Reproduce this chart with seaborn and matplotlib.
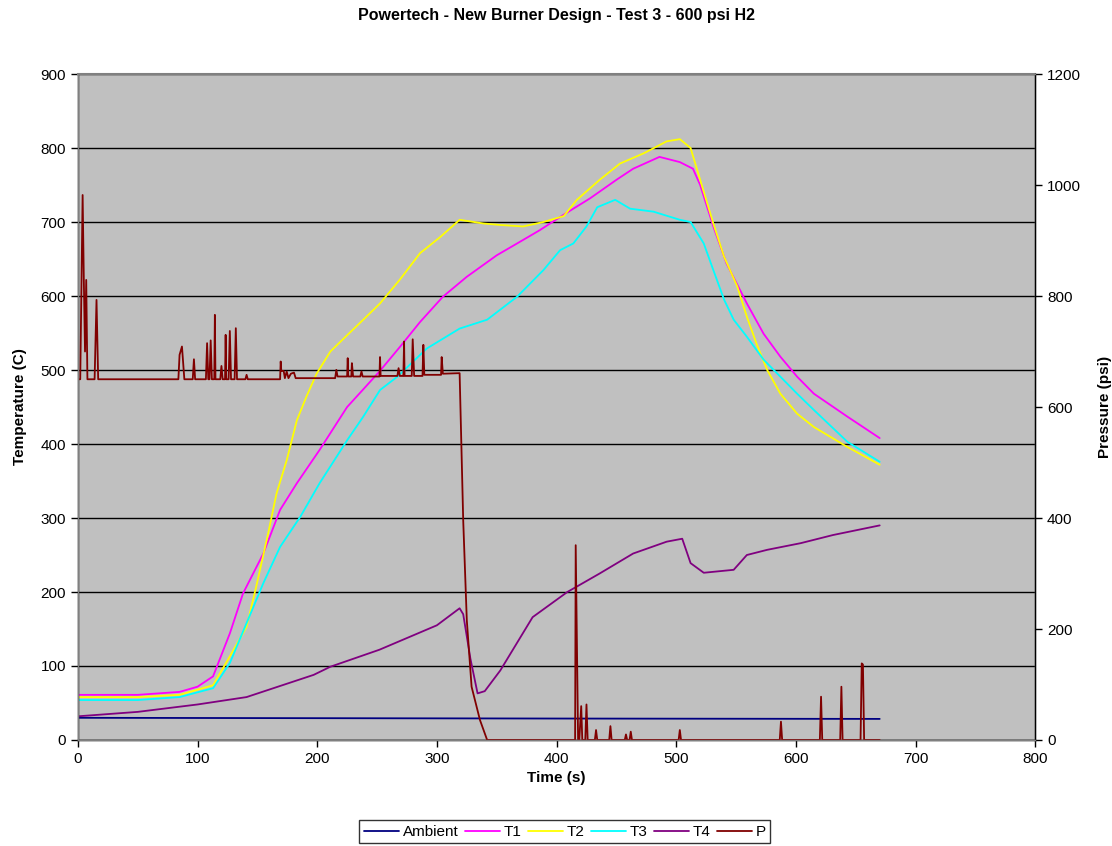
import pandas as pd
import matplotlib
matplotlib.use("Agg")
import matplotlib.pyplot as plt
import seaborn as sns

# ---- data ----
amb_time = [0, 200, 400, 670]
amb_temp = [30, 29.5, 29, 28.5]

t1_time = [0, 50, 85, 100, 113, 127, 138, 155, 169, 183, 202, 225, 238, 252, 269, 286, 305,
           325, 350, 367, 386, 408, 428, 450, 464, 486, 503, 514, 520, 531, 542, 559, 573,
           587, 601, 615, 643, 670]
t1_temp = [61, 61, 65, 72, 86, 144, 198, 252, 311, 347, 392, 450, 473, 498, 531, 565, 599,
           626, 655, 671, 689, 712, 732, 757, 772, 788, 781, 772, 750, 694, 644, 590, 549,
           518, 491, 468, 437, 408]

t2_time = [0, 50, 85, 113, 127, 141, 149, 159, 166, 174.5, 183, 191, 199.5, 211, 225, 238.5,
           252.5, 269, 286, 303, 319, 339, 353, 372, 389, 406, 417, 436, 453, 473, 492, 503,
           512, 520, 531, 540, 551, 559, 567, 576, 587, 601, 615, 643, 670]
t2_temp = [58, 58, 61, 74, 113, 153, 207, 279, 333, 378, 432, 464, 495, 525, 547, 568,
           590, 622, 658, 680, 703, 698, 696, 694, 700, 708, 730, 757, 779, 793, 809, 812,
           800, 757, 698, 653, 613, 572, 536, 500, 468, 441, 423, 396, 372]

t3_time = [0, 50, 85, 113, 127, 141, 155, 169, 186, 202, 225, 238.5, 252.5, 267, 291.5, 319,
           342, 367, 389, 403, 414, 425, 434, 449, 461.5, 481, 503, 512, 523, 531, 540, 548,
           559, 573, 587, 601, 615, 643, 670]
t3_temp = [54, 54, 58, 70, 104, 158, 212, 261, 302, 347, 405, 437, 473, 491, 529, 556,
           568, 599, 635, 662, 671, 694, 720, 730, 718, 714, 703, 700, 671, 635, 595, 568,
           545, 514, 491, 468, 446, 403, 376]

t4_time = [0, 50, 100, 141, 197, 211, 252, 300, 319, 322, 328, 334, 340, 353, 380, 409, 436,
           464, 492, 505, 512, 523, 548, 559, 576, 604, 631, 670]
t4_temp = [32, 38, 48, 58, 88, 99, 122, 155, 178, 170, 110, 63, 66, 94, 166, 200, 225,
           252, 268, 272, 239, 226, 230, 250, 257, 266, 277, 290]

p_time = [0, 2, 4, 5, 6, 7, 8, 14, 15.6, 17, 84, 85, 87, 89, 96, 97, 98, 107, 108, 109, 110, 111,
          112, 114, 114.5, 115, 119, 120, 121, 123, 123.5, 124, 126, 127, 128, 131, 132, 133, 140,
          141, 142, 169, 169.5, 170, 172, 173, 174.5, 176, 178, 180.6, 182, 215, 216, 217, 225,
          225.5, 226, 228.5, 229, 230, 236, 237, 238, 252, 252.5, 253, 267, 268, 269, 272, 272.6,
          273, 279, 279.8, 281, 288, 288.7, 289.5, 303.5, 304, 305, 319, 322, 325, 329, 336, 342,
          415.5, 416, 418, 419, 420.6, 421.5, 424, 425, 426, 432, 433, 434, 444, 445, 446, 457,
          458, 459, 461, 462, 463, 502, 503, 504, 586.5, 587.5, 588.5, 620, 621, 622, 637, 638,
          639, 654, 655, 656, 657, 670]
p_psi = [650, 650, 982, 829, 700, 829, 650, 650, 793, 650, 650, 694, 709, 650, 650, 686, 650, 650,
         715, 650, 650, 720, 650, 650, 766, 650, 650, 674, 650, 650, 730, 650, 650, 737, 650, 650,
         742, 650, 650, 658, 650, 650, 682, 665, 665, 652, 664, 652, 660, 662, 652, 652, 667, 655,
         655, 688, 655, 655, 679, 655, 655, 664, 655, 655, 690, 656, 656, 670, 656, 656, 718, 656,
         656, 722, 656, 656, 712, 658, 658, 690, 660, 661, 396, 216, 96, 36, 0,
         0, 351, 0, 0, 61, 0, 0, 64, 0, 0, 18, 0, 0, 25, 0, 0,
         10, 0, 0, 15, 0, 0, 18, 0, 0, 33, 0, 0, 78, 0, 0, 96,
         0, 0, 138, 136, 0, 0]

# ---- figure ----
sns.set_style("white")
plt.rcParams["font.family"] = ["Liberation Sans", "DejaVu Sans"]
plt.rcParams["text.color"] = "black"
plt.rcParams["axes.labelcolor"] = "black"
plt.rcParams["xtick.color"] = "black"
plt.rcParams["ytick.color"] = "black"

fig = plt.figure(figsize=(11.12, 8.46), dpi=100)
ax = fig.add_axes([0.070, 0.1253, 0.861, 0.7872])
ax.set_facecolor("#C0C0C0")
ax2 = ax.twinx()
ax.set_zorder(1)
ax2.set_zorder(2)
ax2.patch.set_visible(False)

lw = 1.3
sns.lineplot(x=amb_time, y=amb_temp, ax=ax, color="#000080", lw=lw, label="Ambient", legend=False)
sns.lineplot(x=t1_time, y=t1_temp, ax=ax, color="#FF00FF", lw=lw, label="T1", legend=False)
sns.lineplot(x=t2_time, y=t2_temp, ax=ax, color="#FFFF00", lw=lw, label="T2", legend=False)
sns.lineplot(x=t3_time, y=t3_temp, ax=ax, color="#00FFFF", lw=lw, label="T3", legend=False)
sns.lineplot(x=t4_time, y=t4_temp, ax=ax, color="#800080", lw=lw, label="T4", legend=False)
sns.lineplot(x=p_time, y=p_psi, ax=ax2, color="#800000", lw=lw, label="P", legend=False,
             estimator=None, sort=False)

ax.set_xlim(0, 800)
ax.set_ylim(0, 900)
ax2.set_ylim(0, 1200)
ax.set_xticks(range(0, 801, 100))
ax.set_yticks(range(0, 901, 100))
ax2.set_yticks(range(0, 1201, 200))

ax.yaxis.grid(True, color="black", lw=1)
ax.xaxis.grid(False)

for a in (ax, ax2):
    for s in a.spines.values():
        s.set_color("#808080")
        s.set_linewidth(1)
    a.tick_params(direction="out", length=5, width=1, color="black", labelcolor="black",
                  labelsize=11)
ax.spines["top"].set_linewidth(1.5)
ax.spines["left"].set_color("black")
ax.spines["bottom"].set_color("black")
ax2.spines["right"].set_color("black")
ax.tick_params(axis="x", bottom=True)
ax.tick_params(axis="y", left=True)
ax2.tick_params(axis="y", right=True)

ax.set_xlabel("Time (s)", fontsize=11, fontweight="bold", labelpad=4, color="black")
ax.set_ylabel("Temperature (C)", fontsize=11, fontweight="bold", labelpad=10, color="black")
ax2.set_ylabel("Pressure (psi)", fontsize=11, fontweight="bold", labelpad=12, color="black")
fig.suptitle("Powertech - New Burner Design - Test 3 - 600 psi H2", fontsize=11.5,
             fontweight="bold", y=0.99, color="black")

h1, l1 = ax.get_legend_handles_labels()
h2, l2 = ax2.get_legend_handles_labels()
leg = fig.legend(h1 + h2, l1 + l2, loc="lower center", bbox_to_anchor=(0.508, -0.006), ncol=6,
                 fontsize=11, frameon=True, fancybox=False, handlelength=2.3,
                 handletextpad=0.25, columnspacing=0.4, borderpad=0.3)
leg.get_frame().set_edgecolor("black")
leg.get_frame().set_linewidth(1)
for txt in leg.get_texts():
    txt.set_color("black")

fig.savefig("out.png", dpi=100)
